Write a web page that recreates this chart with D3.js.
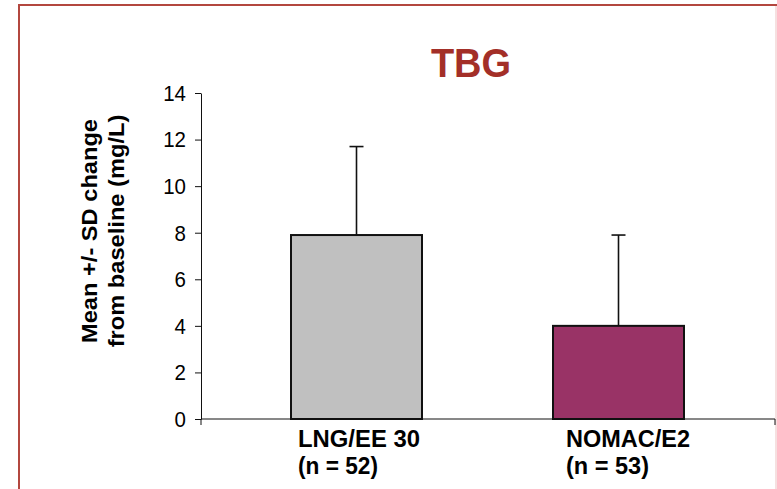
<!DOCTYPE html>
<html lang="en">
<head>
<meta charset="UTF-8">
<title>TBG</title>
<script src="https://d3js.org/d3.v7.min.js"></script>
<style>
  body { margin: 0; background: #fff; }
  svg text { font-family: "Liberation Sans", Arial, sans-serif; }
</style>
</head>
<body>
<div id="grafico"></div>
<script>
// dados do gráfico
const categorias = ["LNG/EE 30", "NOMAC/E2"];
const rotulosN = ["(n = 52)", "(n = 53)"];
const medias = [7.9, 4.0];
const desvios = [3.8, 3.9];
const coresBarras = ["#c0c0c0", "#993366"];
const ticksY = [0, 2, 4, 6, 8, 10, 12, 14];

const width = 777, height = 489;
const plotLeft = 201, plotRight = 775, plotTop = 93, plotBottom = 419;
const esticar = 1.18; // o texto original aparece esticado na vertical

const svg = d3.select("#grafico").append("svg")
  .attr("width", width).attr("height", height);

svg.append("rect").attr("width", width).attr("height", height).attr("fill", "#fff");

// moldura
svg.append("path")
  .attr("d", `M19,${height} L19,5 L${width},5`)
  .attr("fill", "none").attr("stroke", "#b3473f").attr("stroke-width", 2);
svg.append("line")
  .attr("x1", 776).attr("x2", 776).attr("y1", 6).attr("y2", height)
  .attr("stroke", "#f3d6d6").attr("stroke-width", 1.5);

// titulo
svg.append("text")
  .attr("transform", "translate(471,77) scale(1,1.09)")
  .attr("text-anchor", "middle")
  .attr("font-size", 38).attr("font-weight", "bold")
  .attr("fill", "#a32f28")
  .text("TBG");

// escalas
const xScale = d3.scaleBand()
  .domain(categorias)
  .range([160, 815])
  .paddingInner(0.5)
  .paddingOuter(0.5);

const yScale = d3.scaleLinear()
  .domain([0, 14])
  .range([plotBottom, plotTop]);

// barras
svg.selectAll(".barra")
  .data(medias)
  .enter().append("rect")
  .attr("class", "barra")
  .attr("x", (d, i) => xScale(categorias[i]))
  .attr("y", d => yScale(d))
  .attr("width", xScale.bandwidth())
  .attr("height", d => yScale(0) - yScale(d))
  .attr("fill", (d, i) => coresBarras[i])
  .attr("stroke", "#111").attr("stroke-width", 2);

// barras de erro
const cx = i => xScale(categorias[i]) + xScale.bandwidth() / 2;
svg.selectAll(".erro")
  .data(medias)
  .enter().append("line")
  .attr("x1", (d, i) => cx(i)).attr("x2", (d, i) => cx(i))
  .attr("y1", d => yScale(d))
  .attr("y2", (d, i) => yScale(d + desvios[i]))
  .attr("stroke", "#111").attr("stroke-width", 1.6);
svg.selectAll(".cap")
  .data(medias)
  .enter().append("line")
  .attr("x1", (d, i) => cx(i) - 7).attr("x2", (d, i) => cx(i) + 7)
  .attr("y1", (d, i) => yScale(d + desvios[i]))
  .attr("y2", (d, i) => yScale(d + desvios[i]))
  .attr("stroke", "#111").attr("stroke-width", 1.6);

// eixo y
const eixoY = svg.append("g")
  .attr("transform", `translate(${plotLeft},0)`)
  .call(d3.axisLeft(yScale).tickValues(ticksY).tickSize(6).tickSizeOuter(0).tickPadding(9));
eixoY.selectAll("text")
  .attr("font-size", 20.5).attr("fill", "#000")
  .attr("font-family", "'Liberation Sans', Arial, sans-serif")
  .attr("transform", "scale(1,1.12)");
eixoY.selectAll("line, path").attr("stroke", "#111");

// eixo x
svg.append("line")
  .attr("x1", plotLeft).attr("x2", plotRight)
  .attr("y1", yScale(0)).attr("y2", yScale(0))
  .attr("stroke", "#111");
[plotLeft, plotRight].forEach(x => {
  svg.append("line")
    .attr("x1", x).attr("x2", x)
    .attr("y1", yScale(0)).attr("y2", yScale(0) + 6)
    .attr("stroke", "#111");
});

// rotulos das categorias (alinhados à esquerda, como no original)
const recuoRotulo = [7, 13];
const larguraRotulo = [[122, 80], [124, 83]];
categorias.forEach((c, i) => {
  const x0 = xScale(c) + recuoRotulo[i];
  [c, rotulosN[i]].forEach((linha, j) => {
    svg.append("text")
      .attr("transform", `translate(${x0},${447 + j * 27}) scale(1,${esticar})`)
      .attr("font-size", 20).attr("font-weight", "bold").attr("fill", "#000")
      .attr("textLength", larguraRotulo[i][j])
      .attr("lengthAdjust", "spacingAndGlyphs")
      .text(linha);
  });
});

// titulo do eixo y
const tituloY = ["Mean +/- SD change", "from baseline (mg/L)"];
tituloY.forEach((linha, j) => {
  svg.append("text")
    .attr("transform", `translate(${97 + j * 27},231) rotate(-90) scale(1.1,1)`)
    .attr("text-anchor", "middle")
    .attr("font-size", 21.5).attr("font-weight", "bold").attr("fill", "#000")
    .text(linha);
});
</script>
</body>
</html>
